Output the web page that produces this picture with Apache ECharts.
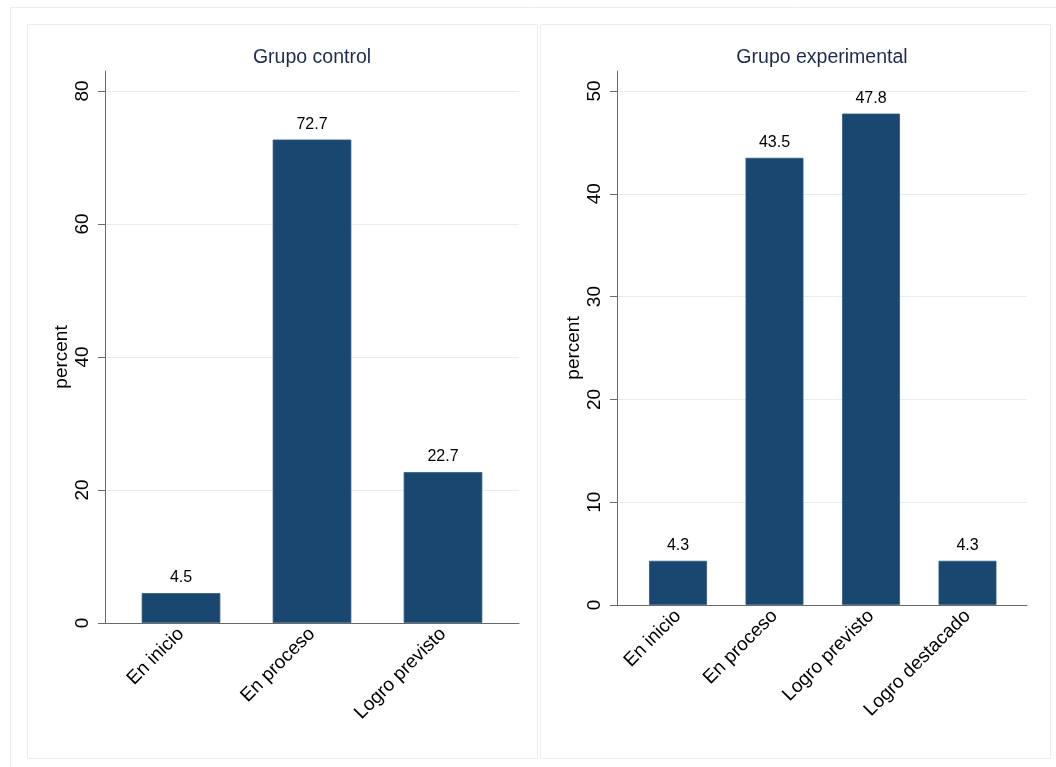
<!DOCTYPE html>
<html>
<head>
<meta charset="utf-8">
<script src="https://cdn.jsdelivr.net/npm/echarts@6/dist/echarts.min.js"></script>
<style>
html,body{margin:0;padding:0;background:#fff;}
#chart{width:1056px;height:767px;}
</style>
</head>
<body>
<div id="chart"></div>
<script>
// ---- data ----
const titleControl = 'Grupo control';
const titleExperimental = 'Grupo experimental';
const catsControl = ['En inicio', 'En proceso', 'Logro previsto'];
const valsControl = [4.5, 72.7, 22.7];
const catsExperimental = ['En inicio', 'En proceso', 'Logro previsto', 'Logro destacado'];
const valsExperimental = [4.3, 43.5, 47.8, 4.3];
const yTicksControl = [0, 20, 40, 60, 80];
const yTicksExperimental = [0, 10, 20, 30, 40, 50];
const yName = 'percent';

// ---- styles ----
const FONT = '"Liberation Sans", Arial, Helvetica, sans-serif';
const BAR = '#1a476f';
const GRID = '#e6eef0';
const AXIS = '#6a6a6a';

const chart = echarts.init(document.getElementById('chart'), null, {renderer: 'canvas'});

function panel(idx, cfg) {
  // idx*3 : frame grid ; idx*3+1 : gridline grid ; idx*3+2 : bar grid
  const g0 = idx * 3, g1 = idx * 3 + 1, g2 = idx * 3 + 2;
  const maxTick = cfg.ticks[cfg.ticks.length - 1];
  const step = cfg.ticks[1] - cfg.ticks[0];
  const grids = [
    {left: cfg.left, right: cfg.right, top: cfg.frameTop, bottom: cfg.bottom, outerBoundsMode: 'none'},
    {left: cfg.left, right: cfg.right, top: cfg.top, bottom: cfg.bottom, outerBoundsMode: 'none'},
    {left: cfg.barLeft, width: cfg.barWidth, top: cfg.top, bottom: cfg.bottom, outerBoundsMode: 'none'}
  ];
  const xAxes = [
    {gridIndex: g0, type: 'value', min: 0, max: 1, z: 10,
      axisLine: {show: true, onZero: false, lineStyle: {color: AXIS, width: 1}},
      axisTick: {show: false}, axisLabel: {show: false}, splitLine: {show: false}},
    {gridIndex: g1, type: 'value', min: 0, max: 1,
      axisLine: {show: false}, axisTick: {show: false}, axisLabel: {show: false}, splitLine: {show: false}},
    {gridIndex: g2, type: 'category', data: cfg.cats,
      axisLine: {show: false}, axisTick: {show: false},
      axisLabel: {show: true, interval: 0, rotate: 45, margin: 8, fontFamily: FONT, fontSize: 19, color: '#000'}}
  ];
  const yAxes = [
    {gridIndex: g0, type: 'value', min: 0, max: cfg.frameMax, z: 10,
      axisLine: {show: true, onZero: false, lineStyle: {color: AXIS, width: 1}},
      axisTick: {show: false}, axisLabel: {show: false}, splitLine: {show: false}},
    {gridIndex: g1, type: 'value', min: 0, max: maxTick, interval: step,
      name: yName, nameLocation: 'middle', nameGap: 34,
      nameTextStyle: {fontFamily: FONT, fontSize: 19, color: '#000'},
      axisLine: {show: false},
      axisTick: {show: true, length: 7, lineStyle: {color: AXIS}},
      axisLabel: {show: true, rotate: 90, margin: 13, fontFamily: FONT, fontSize: 19, color: '#000'},
      splitLine: {show: true, lineStyle: {color: GRID, width: 1}}},
    {gridIndex: g2, type: 'value', min: 0, max: maxTick,
      axisLine: {show: false}, axisTick: {show: false}, axisLabel: {show: false}, splitLine: {show: false}}
  ];
  const series = [{
    type: 'bar', xAxisIndex: g2, yAxisIndex: g2, data: cfg.vals,
    barCategoryGap: '40%',
    itemStyle: {color: BAR, borderColor: '#2d5a80', borderWidth: 0.8},
    label: {show: true, position: 'top', distance: 7, fontFamily: FONT, fontSize: 16, color: '#000',
      formatter: p => p.value.toFixed(1)},
    z: 2
  }];
  const title = {
    text: cfg.title, left: cfg.titleX, top: 43, textAlign: 'center',
    textStyle: {fontFamily: FONT, fontSize: 19.5, fontWeight: 'normal', color: '#1c2b4f'}
  };
  return {grids, xAxes, yAxes, series, title};
}

const p1 = panel(0, {
  cats: catsControl, vals: valsControl, ticks: yTicksControl, title: titleControl,
  left: 105, right: 1056 - 519, top: 91, frameTop: 71, bottom: 767 - 623,
  frameMax: 82.9, barLeft: 115.5, barWidth: 393, titleX: 307
});
const p2 = panel(1, {
  cats: catsExperimental, vals: valsExperimental, ticks: yTicksExperimental, title: titleExperimental,
  left: 617, right: 1056 - 1027, top: 91, frameTop: 71, bottom: 767 - 605,
  frameMax: 51.95, barLeft: 629.75, barWidth: 386, titleX: 817
});

const option = {
  animation: false,
  backgroundColor: '#ffffff',
  title: [p1.title, p2.title],
  grid: [...p1.grids, ...p2.grids],
  xAxis: [...p1.xAxes, ...p2.xAxes],
  yAxis: [...p1.yAxes, ...p2.yAxes],
  series: [...p1.series, ...p2.series],
  graphic: [
    {type: 'rect', shape: {x: 10.5, y: 7.5, width: 1060, height: 780}, silent: true,
      style: {fill: 'none', stroke: '#e9eff1', lineWidth: 1}, z: -10},
    {type: 'rect', shape: {x: 27.5, y: 24.5, width: 510, height: 734}, silent: true,
      style: {fill: 'none', stroke: '#e9eff1', lineWidth: 1}, z: -10},
    {type: 'rect', shape: {x: 540.5, y: 24.5, width: 510, height: 734}, silent: true,
      style: {fill: 'none', stroke: '#e9eff1', lineWidth: 1}, z: -10}
  ]
};
chart.setOption(option);
</script>
</body>
</html>
